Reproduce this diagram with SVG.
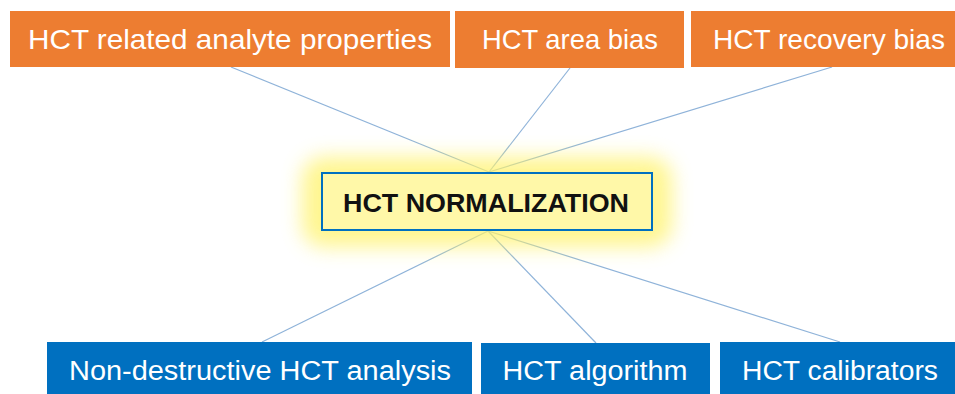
<svg xmlns="http://www.w3.org/2000/svg" width="955" height="394" viewBox="0 0 955 394">
  <defs>
    <filter id="glow" x="-30%" y="-80%" width="160%" height="260%">
      <feGaussianBlur stdDeviation="10"/>
    </filter>
    <style>
      .orange { fill: #ED7D31; }
      .blue { fill: #0070C0; }
      .label { font-family: "Liberation Sans", Arial, sans-serif; font-size: 28px; fill: #ffffff; text-anchor: middle; }
      .lower { font-size: 27px; }
      .core { font-family: "Liberation Sans", Arial, sans-serif; font-size: 26px; font-weight: bold; fill: #111111; text-anchor: middle; }
      .link { stroke: #8FB3D9; stroke-width: 1.2; fill: none; }
    </style>
  </defs>
  <rect width="955" height="394" fill="#ffffff"/>

  <!-- connectors from the central node -->
  <g id="connectors">
    <line class="link" x1="489" y1="172" x2="231" y2="67"/>
    <line class="link" x1="489" y1="172" x2="570" y2="68"/>
    <line class="link" x1="489" y1="172" x2="832" y2="67"/>
    <line class="link" x1="488" y1="231" x2="262" y2="342"/>
    <line class="link" x1="488" y1="231" x2="596" y2="343"/>
    <line class="link" x1="488" y1="231" x2="840" y2="342"/>
  </g>

  <!-- central node with soft yellow halo -->
  <g id="hct-normalization">
    <rect x="302" y="157" width="370" height="90" rx="22" fill="#FFF36A" opacity="0.75" filter="url(#glow)"/>
    <rect x="322" y="173" width="330" height="57" fill="#FFF8A8" stroke="#0070C0" stroke-width="2"/>
    <text class="core" x="486" y="212" textLength="286" lengthAdjust="spacingAndGlyphs">HCT NORMALIZATION</text>
  </g>

  <!-- upper row -->
  <g id="analyte-properties">
    <rect class="orange" x="10" y="11" width="440" height="56"/>
    <text class="label" x="230" y="49" textLength="404" lengthAdjust="spacingAndGlyphs">HCT related analyte properties</text>
  </g>
  <g id="area-bias">
    <rect class="orange" x="455" y="11" width="229" height="57"/>
    <text class="label" x="570" y="49" textLength="176" lengthAdjust="spacingAndGlyphs">HCT area bias</text>
  </g>
  <g id="recovery-bias">
    <rect class="orange" x="691" y="11" width="264" height="56"/>
    <text class="label" x="829" y="49" textLength="232" lengthAdjust="spacingAndGlyphs">HCT recovery bias</text>
  </g>

  <!-- lower row -->
  <g id="non-destructive-analysis">
    <rect class="blue" x="47" y="342" width="425" height="52"/>
    <text class="label lower" x="260" y="380" textLength="382" lengthAdjust="spacingAndGlyphs">Non-destructive HCT analysis</text>
  </g>
  <g id="algorithm">
    <rect class="blue" x="481" y="343" width="229" height="51"/>
    <text class="label lower" x="595" y="380" textLength="185" lengthAdjust="spacingAndGlyphs">HCT algorithm</text>
  </g>
  <g id="calibrators">
    <rect class="blue" x="720" y="342" width="235" height="52"/>
    <text class="label lower" x="840" y="380" textLength="196" lengthAdjust="spacingAndGlyphs">HCT calibrators</text>
  </g>
</svg>
